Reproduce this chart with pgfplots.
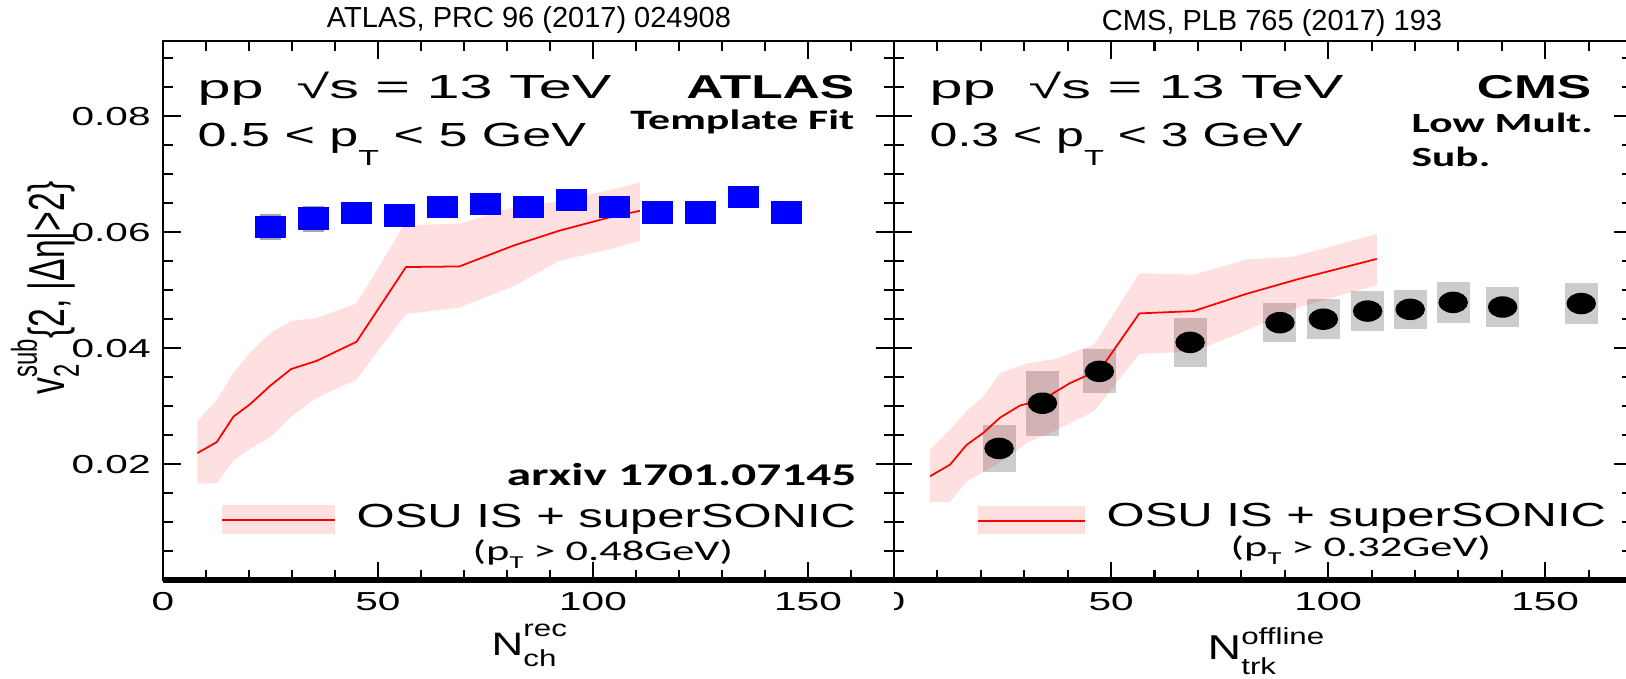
\documentclass[border=0pt]{standalone}
\usepackage{fontspec}
\setmainfont{Liberation Sans}
% the panel artwork is widened horizontally, so its lettering is too
\newfontfamily\sx[FakeStretch=1.56]{Liberation Sans}
\newfontfamily\cx[FakeStretch=1.56]{Carlito}
\newfontfamily\lx[FakeStretch=1.35]{Liberation Sans}
\usepackage{graphicx}
\usepackage{pgfplots}
\usepackage{pgfplotstable}
\pgfplotsset{compat=1.18}
\newcommand{\fs}[1]{\fontsize{#1}{#1}\selectfont}

% ---------------- ATLAS panel ----------------
\pgfplotstableread{
x y
25 0.0609
35 0.0624
45 0.0633
55 0.0629
65 0.0644
75 0.0649
85 0.0644
95 0.0656
105 0.0644
115 0.0634
125 0.0634
135 0.0661
145 0.0634
}\atlasdata
\pgfplotstableread{
x y e
25 0.0609 0.0023
35 0.0623 0.0023
}\atlassys
\pgfplotstableread{
x y
8.0 0.0219
12.5 0.0238
16.4 0.0282
20.2 0.0303
24.9 0.0335
29.8 0.0364
35.7 0.0378
45.0 0.0411
56.5 0.0540
68.9 0.0541
81.5 0.0577
92.3 0.0603
104.0 0.0626
110.9 0.0637
}\atlasline
% upper edge, then lower edge back
\pgfplotstableread{
x y
8.0 0.0274
12.5 0.0310
16.4 0.0358
20.2 0.0392
24.9 0.0426
29.8 0.0447
35.7 0.0452
45.0 0.0477
56.0 0.0612
68.9 0.0615
81.5 0.0643
92.3 0.0654
104.0 0.0673
110.9 0.0686
110.9 0.0585
104.0 0.0571
92.3 0.0551
81.5 0.0507
68.9 0.0470
56.5 0.0459
45.0 0.0346
35.7 0.0314
29.8 0.0282
24.9 0.0246
20.2 0.0226
16.4 0.0206
12.5 0.0167
8.0 0.0166
}\atlasband

% ---------------- CMS panel ----------------
\pgfplotstableread{
x y e
24.2 0.0227 0.0041
34.2 0.0305 0.0056
47.3 0.0360 0.0038
68.2 0.0410 0.0042
88.9 0.0444 0.0034
98.9 0.0450 0.0034
109.1 0.0464 0.0035
118.9 0.0467 0.0034
128.8 0.0479 0.0035
140.2 0.0471 0.0034
158.3 0.0477 0.0035
}\cmsdata
\pgfplotstableread{
x y
8.3 0.0179
12.9 0.0199
16.7 0.0233
20.6 0.0254
24.4 0.0280
29.0 0.0301
34.2 0.0311
40.6 0.0340
47.5 0.0363
56.5 0.0460
69.0 0.0464
81.3 0.0494
93.5 0.0520
111.2 0.0554
}\cmsline
\pgfplotstableread{
x y
8.3 0.0225
12.9 0.0260
16.7 0.0291
20.6 0.0317
24.4 0.0357
30.7 0.0374
36.9 0.0381
46.1 0.0406
56.5 0.0529
69.0 0.0527
81.3 0.0553
92.0 0.0558
111.2 0.0597
111.2 0.0509
93.5 0.0471
81.3 0.0431
69.0 0.0394
56.5 0.0390
46.1 0.0291
36.9 0.0257
30.7 0.0237
24.4 0.0203
16.7 0.0170
12.9 0.0135
8.3 0.0135
}\cmsband

\pgfplotsset{
  panel/.style={
    scale only axis, height=5.39cm,
    xmin=0, xmax=170, ymin=0, ymax=0.093,
    scaled y ticks=false, scaled x ticks=false,
    axis line style={line width=0.7pt},
    tick style={line width=0.6pt, black},
    tick align=inside, tick pos=both,
    major tick length=1.8mm, minor tick length=1.0mm,
    xtick={0,50,100,150}, minor xtick={10,20,...,170},
    ytick={0.02,0.04,0.06,0.08}, minor ytick={0.005,0.01,...,0.0901},
    /pgf/number format/assume math mode=true,
    xticklabel style={font=\sx\fs{7.4}},
    yticklabel style={font=\sx\fs{7.4}},
    xticklabels={0,50,100,150},
  },
  band/.style={fill=red, fill opacity=0.12, draw=none, forget plot},
  model/.style={red, line width=0.5pt, mark=none},
}

\begin{document}
\begin{tikzpicture}
\useasboundingbox (0,0) rectangle (16.26cm,6.78cm);

% right panel (CMS)
\begin{axis}[panel, at={(8.94cm,0.98cm)}, anchor=south west, width=7.38cm,
  yticklabels={}]
  \addplot[only marks, mark=none, forget plot,
    error bars/.cd, y dir=both, y explicit, error mark=none,
    error bar style={line width=9.4pt, color=gray!40}]
    table[x=x, y=y, y error=e] {\cmsdata};
  \addplot[band] table {\cmsband} -- cycle;
  \addplot[model] table {\cmsline};
  \addplot[only marks, mark=*, black, mark size=2.85pt,
    mark options={xscale=1.4, fill=black}] table[x=x, y=y] {\cmsdata};
\end{axis}

% left panel (ATLAS)
\begin{axis}[panel, at={(1.63cm,0.98cm)}, anchor=south west, width=7.31cm,
  yticklabels={0.02,0.04,0.06,0.08}]
  \addplot[band] table {\atlasband} -- cycle;
  \addplot[model] table {\atlasline};
  \addplot[only marks, mark=none, forget plot,
    error bars/.cd, y dir=both, y explicit, error mark=none,
    error bar style={line width=5.7pt, color=gray!70}]
    table[x=x, y=y, y error=e] {\atlassys};
  \addplot[only marks, mark=square*, blue, mark size=3pt,
    mark options={xscale=1.43, fill=blue, draw=blue}] table {\atlasdata};
\end{axis}

\begin{scope}[shift={(0,6.78cm)}, x=0.1mm, y=-0.1mm]
  % thick baseline of both panels
  \draw[line width=0.6mm, line cap=butt] (163,580) -- (1632,580);
  % the left half of the right panel's "0" sits under the left panel
  \fill[white] (874,584) rectangle (893.6,616);

  % titles
  \node[anchor=base, inner sep=0] at (529,28) {\fs{8.25}ATLAS, PRC 96 (2017) 024908};
  \node[anchor=base, inner sep=0] at (1272,31) {\fs{8.25}CMS, PLB 765 (2017) 193};

  % ATLAS panel text
  \node[anchor=base west, inner sep=0] at (197,99) {\scalebox{1.14}[1]{\sx\fs{9.5}pp\ \ √s = 13 TeV}};
  \node[anchor=base west, inner sep=0] at (197,146.7) {\sx\fs{9.5}0.5 {<} p\raisebox{-1.9mm}{\fs{6.2}T} {<} 5 GeV};
  \node[anchor=base east, inner sep=0] at (855,99) {\sx\bfseries\fs{9.4}ATLAS};
  \node[anchor=base east, inner sep=0] at (855,130) {\cx\bfseries\fs{8.0}Template Fit};
  \node[anchor=base east, inner sep=0] at (857,485.5) {\cx\bfseries\fs{9.0}arxiv 1701.07145};
  \fill[red, fill opacity=0.12] (222,505) rectangle (334.6,534);
  \draw[red, line width=0.6pt] (222,520.3) -- (334.6,520.3);
  \node[anchor=base west, inner sep=0] at (356,527) {\scalebox{0.94}[1]{\sx\fs{9.5}OSU IS + superSONIC}};
  \node[anchor=base west, inner sep=0] at (472,560) {\cx\fs{8.1}(p\raisebox{-0.8mm}{\fs{5.2}T} > 0.48GeV)};

  % CMS panel text
  \node[anchor=base west, inner sep=0] at (929,99) {\scalebox{1.14}[1]{\sx\fs{9.5}pp\ \ √s = 13 TeV}};
  \node[anchor=base west, inner sep=0] at (929,146.7) {\scalebox{0.96}[1]{\sx\fs{9.5}0.3 {<} p\raisebox{-1.9mm}{\fs{6.2}T} {<} 3 GeV}};
  \node[anchor=base east, inner sep=0] at (1592,99) {\sx\bfseries\fs{9.4}CMS};
  \node[anchor=base west, inner sep=0] at (1411,132.7) {\cx\bfseries\fs{7.9}Low Mult.};
  \node[anchor=base west, inner sep=0] at (1411,166.7) {\cx\bfseries\fs{7.9}Sub.};
  \fill[red, fill opacity=0.12] (977.7,505.7) rectangle (1085,534);
  \draw[red, line width=0.6pt] (977.7,520.7) -- (1085,520.7);
  \node[anchor=base west, inner sep=0] at (1106,526.7) {\scalebox{0.94}[1]{\sx\fs{9.5}OSU IS + superSONIC}};
  \node[anchor=base west, inner sep=0] at (1230,556.7) {\cx\fs{8.1}(p\raisebox{-0.8mm}{\fs{5.2}T} > 0.32GeV)};

  % axis titles
  \node[anchor=base west, inner sep=0] at (491,655) {\lx\fs{9.25}N\rlap{\raisebox{-1.1mm}{\fs{6.6}ch}}\raisebox{1.9mm}{\fs{6.6}rec}};
  \node[anchor=base west, inner sep=0] at (1207,659) {\lx\fs{9.8}N\rlap{\raisebox{-1.5mm}{\fs{6.6}trk}}\raisebox{1.5mm}{\fs{6.6}offline}};
  \node[rotate=90, inner sep=0] at (45,288) {\scalebox{1}[1.5]{\fs{9.6}v\rlap{\raisebox{-0.28em}{\fs{6.8}2}}\raisebox{0.55em}{\fs{6.8}sub}\{2, |Δη|>2\}}};
\end{scope}
\end{tikzpicture}
\end{document}
